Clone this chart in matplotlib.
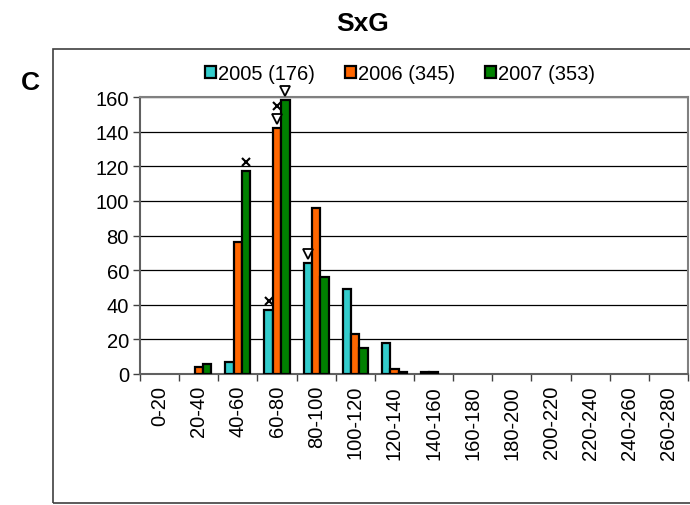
import matplotlib
matplotlib.use("Agg")
import matplotlib.pyplot as plt
import matplotlib.transforms as mtransforms
from matplotlib.patches import Rectangle, Patch
import numpy as np

plt.rcParams['font.family'] = ['Liberation Sans', 'DejaVu Sans']

categories = ["0-20", "20-40", "40-60", "60-80", "80-100", "100-120", "120-140",
              "140-160", "160-180", "180-200", "200-220", "220-240", "240-260", "260-280"]
series_names = ["2005 (176)", "2006 (345)", "2007 (353)"]
v2005 = [0, 0, 7, 37, 64, 49, 18, 1, 0, 0, 0, 0, 0, 0]
v2006 = [0, 4, 76, 142, 96, 23, 3, 1, 0, 0, 0, 0, 0, 0]
v2007 = [0, 6, 117, 158, 56, 15, 1, 0, 0, 0, 0, 0, 0, 0]
colors = ["#33CCCC", "#FF6600", "#008000"]
# annotations: (series index, category index, marks from bottom to top)
marks = [(2, 2, ["x"]), (0, 3, ["x"]), (1, 3, ["v", "x"]), (2, 3, ["v"]), (0, 4, ["v"])]

fig = plt.figure(figsize=(6.9, 5.06), dpi=100)
W, H = 690, 506
ax = fig.add_axes([140 / W, 1 - 375 / H, (688 - 140) / W, (375 - 98) / H])

# outer frame
fig.add_artist(Rectangle((53 / W, 1 - 504 / H), (700 - 53) / W, (504 - 50) / H,
                         transform=fig.transFigure, fill=False, edgecolor="#404040",
                         linewidth=1.2, zorder=0))

data = [v2005, v2006, v2007]
x = np.arange(len(categories))
bw = 0.215
offsets = [-bw, 0, bw]
handles = []
for vals, col, off, name in zip(data, colors, offsets, series_names):
    vals = np.asarray(vals)
    lw = np.where(vals > 0, 1.6, 0.0)
    ax.bar(x + off, vals, width=bw, color=col, edgecolor="black", linewidth=lw, zorder=3)
    handles.append(Patch(facecolor=col, edgecolor="black", linewidth=1.6, label=name))

# markers above bars
for si, ci, ms in marks:
    val = data[si][ci]
    for k, m in enumerate(ms):
        dy = 6.5 + 9.5 * k
        tr = ax.transData + mtransforms.ScaledTranslation(0, dy / 72, fig.dpi_scale_trans)
        if m == "v":
            ax.plot([ci + offsets[si]], [val], marker="v", markersize=7.5,
                    markerfacecolor="white", markeredgecolor="black", markeredgewidth=1.3,
                    transform=tr, clip_on=False, zorder=5, linestyle="none")
        else:
            ax.plot([ci + offsets[si]], [val], marker="x", markersize=5.5,
                    markeredgecolor="black", markeredgewidth=1.5,
                    transform=tr, clip_on=False, zorder=5, linestyle="none")

ax.set_xlim(-0.5, len(categories) - 0.5)
ax.set_ylim(0, 160)
ax.set_yticks(np.arange(0, 161, 20))
ax.yaxis.grid(True, color="black", linewidth=0.9, zorder=0)
ax.set_axisbelow(True)

ax.set_xticks(np.arange(-0.5, len(categories), 1.0))
ax.set_xticklabels([])
ax.set_xticks(x, minor=True)
ax.set_xticklabels(categories, minor=True, rotation=90, fontsize=14.5)
ax.tick_params(axis="x", which="major", length=5, width=1, color="#404040")
ax.tick_params(axis="x", which="minor", length=0, pad=8)
ax.tick_params(axis="y", length=5, width=1, color="#404040", labelsize=14.5, pad=3)

for s in ["top", "right"]:
    ax.spines[s].set_color("#808080")
    ax.spines[s].set_linewidth(1.5)
for s in ["left", "bottom"]:
    ax.spines[s].set_color("#606060")
    ax.spines[s].set_linewidth(1.5)

fig.legend(handles=handles, loc="center", bbox_to_anchor=(400 / W, 1 - 75 / H), ncol=3,
           frameon=False, fontsize=14.5, handlelength=0.55, handleheight=0.55,
           handletextpad=0.1, columnspacing=1.5, borderaxespad=0)

fig.text(363 / W, 1 - 24 / H, "SxG", ha="center", va="center", fontsize=19, fontweight="bold")
fig.text(30 / W, 1 - 83 / H, "C", ha="center", va="center", fontsize=19, fontweight="bold")

fig.savefig("out.png", dpi=100)
